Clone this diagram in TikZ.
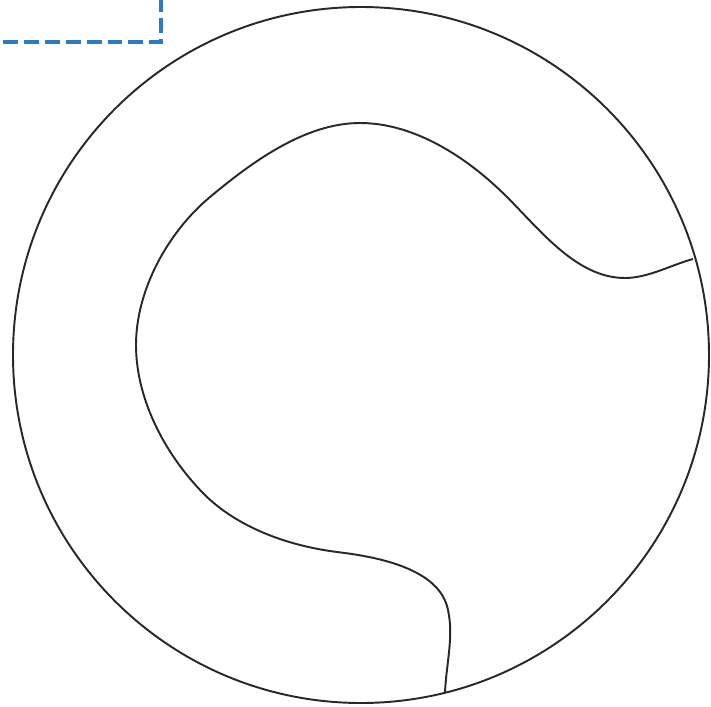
\documentclass[tikz,border=0pt]{standalone}
\usepackage{xcolor}
\usepackage{tikz}
\usetikzlibrary{calc}
\definecolor{cutblue}{RGB}{46,122,192}
\definecolor{rimgray}{RGB}{40,40,40}

\begin{document}
\begin{tikzpicture}[
    x=0.02cm, y=-0.02cm,
    rim/.style={draw=rimgray, line width=1.1pt},
    seam/.style={draw=rimgray, line width=1.1pt},
    cutline/.style={draw=cutblue, line width=2.8pt, dash pattern=on 8.5pt off 3.4pt}
]
    \useasboundingbox (0,0) rectangle (711,707);

    % Outer disc
    \coordinate (centre) at (361,355);
    \draw[rim] (centre) circle[radius=348];

    % Seam ends on the rim
    \coordinate (seamright) at (693,259);
    \coordinate (seambottom) at (445,693);

    % Seam
    \draw[seam] (seamright)
        .. controls (671,265) and (648,278) .. (625,278)
        .. controls (577,278) and (541,231) .. (507,197)
        .. controls (468,158) and (415,123) .. (360,123)
        .. controls (305,123) and (252,162) .. (210,197)
        .. controls (168,232) and (136,290) .. (136,345)
        .. controls (136,401) and (167,458) .. (207,497)
        .. controls (241,529) and (290,546) .. (337,552)
        .. controls (379,557) and (440,569) .. (448,610)
        .. controls (454,637) and (446,665) .. (seambottom);

    % Corner mark
    \coordinate (cornerleft) at (3,42);
    \coordinate (cornerbend) at (161,42);
    \coordinate (cornertop) at (161,0);
    \draw[cutline] (cornerleft) -- (cornerbend) -- (cornertop);
\end{tikzpicture}
\end{document}
